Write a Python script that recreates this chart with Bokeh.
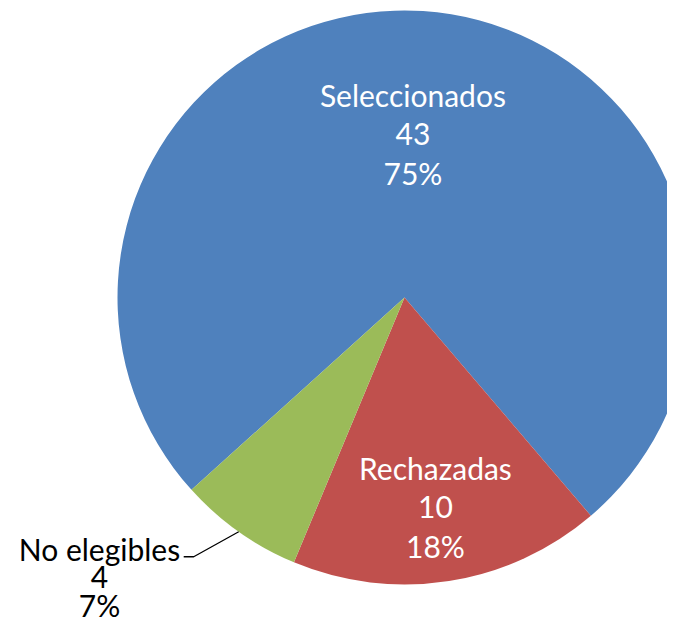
import math
from bokeh.plotting import figure
from bokeh.models import Range1d, ColumnDataSource
from bokeh.core.properties import value
from bokeh.embed import file_html
from bokeh.resources import INLINE

# ---- data ----
categories = ["Seleccionados", "Rechazadas", "No elegibles"]
counts = [43, 10, 4]
percent_labels = ["75%", "18%", "7%"]

# ---- style / layout ----
colors = ["#4F81BD", "#C0504D", "#9BBB59"]
W, H = 667, 625
TOP = 641                    # data y = TOP - pixel row
CX, CY = 404, TOP - 297      # pie centre (data units = pixels)
R = 287
START_DEG = 222.08           # first slice starts here, slices run clockwise
FONT = "Lato"
FSIZE = "30px"
LINE_GAP = 39

p = figure(width=W, height=H, output_backend="svg", toolbar_location=None,
           x_range=Range1d(0, W), y_range=Range1d(TOP - H, TOP),
           min_border=0)
p.axis.visible = False
p.grid.visible = False
p.outline_line_color = None
p.background_fill_color = "white"
p.border_fill_color = "white"

total = sum(counts)
starts, ends, mids = [], [], []
cum = 0
for c in counts:
    a0 = math.radians(START_DEG) - cum / total * 2 * math.pi
    a1 = math.radians(START_DEG) - (cum + c) / total * 2 * math.pi
    starts.append(a0)
    ends.append(a1)
    mids.append((a0 + a1) / 2)
    cum += c

src = ColumnDataSource(dict(start=starts, end=ends, color=colors, cat=categories))
p.wedge(x=CX, y=CY, radius=R, start_angle="start", end_angle="end",
        direction="clock", fill_color="color", line_color=None, source=src)

# label anchors: radial fraction of R for the middle line of each label
fracs = [0.56, 0.74]
dys = [3, 0]
for i in range(2):
    r = fracs[i] * R
    mx = CX + r * math.cos(mids[i]) - 2
    my = CY + r * math.sin(mids[i]) + dys[i]
    lines = [categories[i], str(counts[i]), percent_labels[i]]
    xs = [mx] * 3
    ys = [my + LINE_GAP, my, my - LINE_GAP]
    p.text(x=xs, y=ys, text=lines, text_color="white", text_align="center",
           text_baseline="alphabetic", text_font=value(FONT), text_font_size=FSIZE)

# outside label for the small slice with a leader line
ex = CX + R * math.cos(mids[2])
ey = CY + R * math.sin(mids[2])
elbow_x, elbow_y = ex - 45, ey - 25
p.line(x=[ex, elbow_x, elbow_x - 10], y=[ey, elbow_y, elbow_y],
       line_color="black", line_width=1.3)
lx = 99
lines = [categories[2], str(counts[2]), percent_labels[2]]
ys = [TOP - 548, TOP - 576, TOP - 604]
p.text(x=[lx] * 3, y=ys, text=lines, text_color="black", text_align="center",
       text_baseline="alphabetic", text_font=value(FONT), text_font_size=FSIZE)

open("out.html", "w").write(file_html(p, INLINE))
